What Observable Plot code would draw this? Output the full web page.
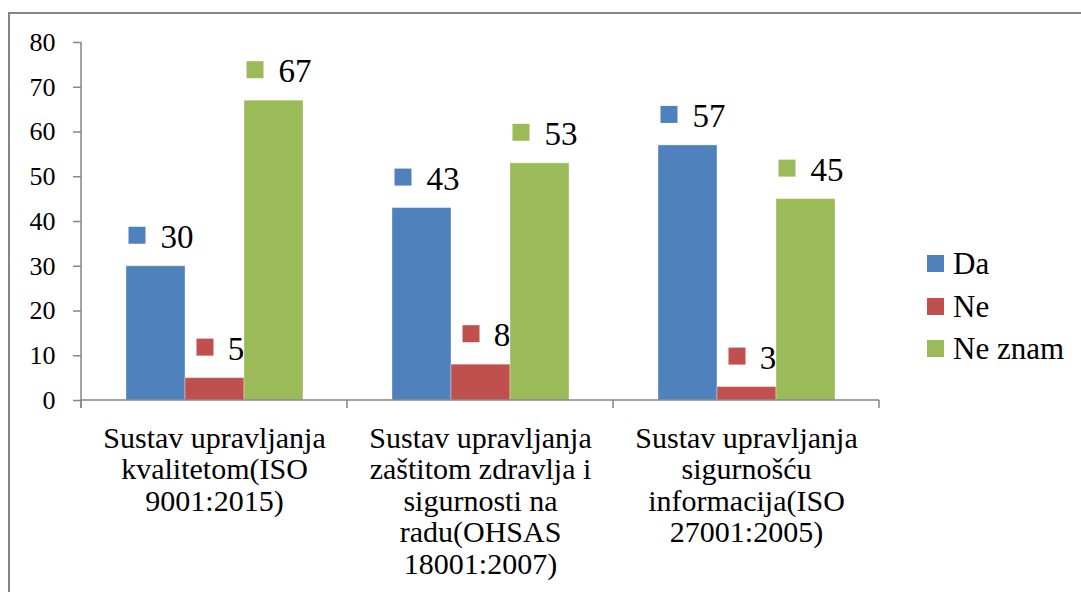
<!DOCTYPE html>
<html>
<head>
<meta charset="utf-8">
<script src="https://cdn.jsdelivr.net/npm/d3@7"></script>
<script src="https://cdn.jsdelivr.net/npm/@observablehq/plot@0.6"></script>
<style>
  html, body { margin: 0; padding: 0; background: #fff; }
  #wrap { position: relative; width: 1081px; height: 592px; overflow: hidden; font-family: 'Liberation Serif'; }
  #border { position: absolute; left: 8px; top: 12px; width: 1100px; height: 700px; border-left: 2px solid #868686; border-top: 2px solid #868686; box-sizing: border-box; }
  #legend { position: absolute; left: 0; top: 0; }
  .lg-sw { position: absolute; width: 17px; height: 17px; }
  .lg-tx { position: absolute; font-size: 31px; line-height: 31px; color: #000; white-space: nowrap; font-family: 'Liberation Serif'; }
  #chart { position: absolute; left: 0; top: 0; }
  #chart svg, #chart svg text, #chart svg g { font-family: 'Liberation Serif' !important; }
</style>
</head>
<body>
<div id="wrap">
  <div id="border"></div>
  <div id="chart"></div>
  <div id="legend"></div>
</div>
<script>
// ---- data ----
const categories = [
  "Sustav upravljanja\nkvalitetom(ISO\n9001:2015)",
  "Sustav upravljanja\nzaštitom zdravlja i\nsigurnosti na\nradu(OHSAS\n18001:2007)",
  "Sustav upravljanja\nsigurnošću\ninformacija(ISO\n27001:2005)"
];
const series = ["Da", "Ne", "Ne znam"];
const daValues = [30, 43, 57];
const neValues = [5, 8, 3];
const neZnamValues = [67, 53, 45];
const yTicks = [0, 10, 20, 30, 40, 50, 60, 70, 80];
const colors = ["#4F81BD", "#C0504D", "#9BBB59"];
const axisColor = "#868686";
const serifFont = "Liberation Serif";

const seriesValues = [daValues, neValues, neZnamValues];
const rows = [];
categories.forEach((c, i) => {
  series.forEach((s, j) => rows.push({cat: c, series: s, value: seriesValues[j][i]}));
});

const chart = Plot.plot({
  width: 1081,
  height: 592,
  marginLeft: 80,
  marginRight: 201,
  marginTop: 42,
  marginBottom: 192,
  style: {fontFamily: serifFont, background: "transparent", color: "#000", overflow: "visible"},
  fx: {domain: categories, paddingInner: 0, paddingOuter: 0, label: null},
  x: {domain: series, paddingInner: 0, paddingOuter: 0.75, axis: null},
  y: {domain: [0, 80], axis: null},
  color: {domain: series, range: colors},
  marks: [
    Plot.barY(rows, {fx: "cat", x: "series", y: "value", fill: "series", stroke: "#ffffff", strokeOpacity: 0.35, strokeWidth: 1}),
    Plot.dot(rows, {filter: d => d.value >= 10, fx: "cat", x: "series", y: "value", fill: "series", symbol: "square", r: 9.6, dx: -19, dy: -31}),
    Plot.dot(rows, {filter: d => d.value < 10, fx: "cat", x: "series", y: "value", fill: "series", symbol: "square", r: 9.6, dx: -10, dy: -31}),
    Plot.text(rows, {fx: "cat", x: "series", y: "value", text: d => String(d.value), dx: 21, dy: -29, fontSize: 33, fill: "#000", fontFamily: serifFont}),
    Plot.axisY({ticks: yTicks, tickSize: 8, tickPadding: 18, fontSize: 26, stroke: axisColor, strokeWidth: 1.5, fill: "#000", label: null, tickFormat: d => String(d), fontFamily: serifFont}),
    Plot.axisFx({anchor: "bottom", tickSize: 0, tickPadding: 25, fontSize: 30, lineHeight: 1.05, fill: "#000", label: null, tickFormat: d => d, fontFamily: serifFont})
  ]
});
document.getElementById("chart").appendChild(chart);

// axis lines and category separators, positioned from the chart's own scales
(function () {
  const fx = chart.scale("fx");
  const ys = chart.scale("y");
  const y0 = ys.apply(0), yTop = ys.apply(yTicks[yTicks.length - 1]);
  const tick = 8;
  const left = fx.apply(categories[0]);
  const right = fx.apply(categories[categories.length - 1]) + fx.bandwidth;
  const g = d3.select(chart).append("g")
    .attr("stroke", axisColor)
    .attr("stroke-width", 1.5)
    .attr("fill", "none");
  g.append("line").attr("x1", left).attr("x2", right).attr("y1", y0).attr("y2", y0);
  g.append("line").attr("x1", left).attr("x2", left).attr("y1", yTop).attr("y2", y0 + tick);
  const edges = categories.map(c => fx.apply(c)).concat([right]);
  edges.forEach(e => {
    g.append("line").attr("x1", e).attr("x2", e).attr("y1", y0).attr("y2", y0 + tick);
  });
})();

// legend
const legend = document.getElementById("legend");
series.forEach((s, i) => {
  const sw = document.createElement("div");
  sw.className = "lg-sw";
  sw.style.left = "927px";
  sw.style.top = (255 + i * 42.5) + "px";
  sw.style.background = colors[i];
  legend.appendChild(sw);
  const tx = document.createElement("div");
  tx.className = "lg-tx";
  tx.style.left = "953px";
  tx.style.top = (248 + i * 42.5) + "px";
  tx.textContent = s;
  legend.appendChild(tx);
});
</script>
</body>
</html>
